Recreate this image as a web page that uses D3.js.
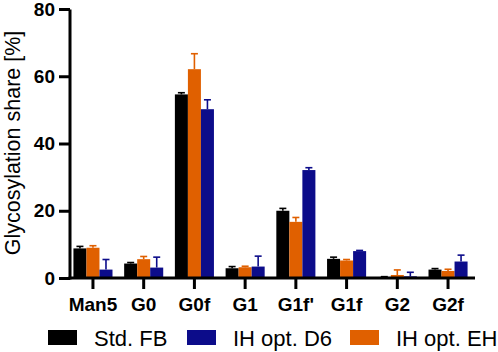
<!DOCTYPE html>
<html>
<head>
<meta charset="utf-8">
<script src="https://cdn.jsdelivr.net/npm/d3@7"></script>
<style>
  body { margin: 0; background: #fff; }
  text { font-family: Arial, "Liberation Sans", sans-serif; }
</style>
</head>
<body>
<div id="chartDiv"></div>
<script>
// Glycosylation data (mean and upper error)
const categories = ["Man5", "G0", "G0f", "G1", "G1f'", "G1f", "G2", "G2f"];
const seriesNames = ["Std. FB", "IH opt. EH", "IH opt. D6"];
const stdFB   = [8.8, 4.3, 54.6, 2.9, 20.0, 5.7, 0.3, 2.5];
const stdFBErr = [0.6, 0.3, 0.5, 0.5, 0.7, 0.5, 0.1, 0.3];
const ihEH    = [9.0, 5.6, 62.1, 3.2, 16.7, 5.2, 0.9, 2.1];
const ihEHErr = [0.6, 0.8, 4.6, 0.3, 1.3, 0.3, 1.5, 0.5];
const ihD6    = [2.5, 3.1, 50.2, 3.4, 32.1, 8.0, 0.5, 4.9];
const ihD6Err = [3.0, 3.1, 2.8, 3.1, 0.7, 0.2, 1.2, 1.9];
const yTicks = [0, 20, 40, 60, 80];

const colors = {"Std. FB": "#000000", "IH opt. EH": "#E06000", "IH opt. D6": "#0C0C8A"};
const legendOrder = ["Std. FB", "IH opt. D6", "IH opt. EH"];

const width = 498, height = 352;

let svg = d3.select("#chartDiv")
     .append("svg")
     .attr("width", width)
     .attr("height", height);

// Build rows for drawing
const values = [stdFB, ihEH, ihD6];
const errors = [stdFBErr, ihEHErr, ihD6Err];
let rows = [];
categories.forEach(function(c, i) {
     seriesNames.forEach(function(s, j) {
          rows.push({cat: c, series: s, value: values[j][i], err: errors[j][i]});
     });
});

// Scales
let scaleX = d3.scaleBand()
     .domain(categories)
     .range([67.6, 473.4])
     .paddingInner(0.23)
     .paddingOuter(0.115);
let scaleSub = d3.scaleBand()
     .domain(seriesNames)
     .range([0, scaleX.bandwidth()]);
let scaleY = d3.scaleLinear()
     .domain([0, 80])
     .range([278, 9]);

// Bars
svg.selectAll(".bar")
     .data(rows)
     .enter()
     .append("rect")
       .attr("class", "bar")
       .attr("x", function(d) { return scaleX(d.cat) + scaleSub(d.series); })
       .attr("y", function(d) { return scaleY(d.value); })
       .attr("width", scaleSub.bandwidth())
       .attr("height", function(d) { return scaleY(0) - scaleY(d.value); })
       .attr("fill", function(d) { return colors[d.series]; });

// Error bars (upper only)
let errG = svg.selectAll(".err")
     .data(rows)
     .enter()
     .append("g")
       .attr("class", "err")
       .attr("stroke", function(d) { return colors[d.series]; })
       .attr("stroke-width", 1.6);
errG.append("line")
     .attr("x1", function(d) { return scaleX(d.cat) + scaleSub(d.series) + scaleSub.bandwidth() / 2; })
     .attr("x2", function(d) { return scaleX(d.cat) + scaleSub(d.series) + scaleSub.bandwidth() / 2; })
     .attr("y1", function(d) { return scaleY(d.value); })
     .attr("y2", function(d) { return scaleY(d.value + d.err); });
errG.append("line")
     .attr("x1", function(d) { return scaleX(d.cat) + scaleSub(d.series) + scaleSub.bandwidth() / 2 - 3.5; })
     .attr("x2", function(d) { return scaleX(d.cat) + scaleSub(d.series) + scaleSub.bandwidth() / 2 + 3.5; })
     .attr("y1", function(d) { return scaleY(d.value + d.err); })
     .attr("y2", function(d) { return scaleY(d.value + d.err); });

// Y axis
let yAxis = svg.append("g")
     .attr("transform", "translate(70,0)")
     .call(d3.axisLeft(scaleY).tickValues(yTicks).tickSize(11).tickPadding(4));
yAxis.select(".domain").attr("stroke-width", 3).attr("d", "M0,9.5V279.5");
yAxis.selectAll(".tick line").attr("stroke-width", 3);
yAxis.selectAll("text")
     .style("font-size", "19px")
     .style("font-weight", "bold")
     .attr("fill", "#000");

// X axis
let xAxis = svg.append("g")
     .attr("transform", "translate(0,278)")
     .call(d3.axisBottom(scaleX).tickSize(11).tickPadding(9));
xAxis.select(".domain").attr("stroke-width", 3).attr("d", "M68.5,0H475");
xAxis.selectAll(".tick line").attr("stroke-width", 3);
xAxis.selectAll("text")
     .style("font-size", "19px")
     .style("font-weight", "bold")
     .attr("fill", "#000");

// Y label
svg.append("text")
     .attr("text-anchor", "middle")
     .attr("transform", "translate(20,143) rotate(-90)")
     .style("font-size", "21.5px")
     .text("Glycosylation share [%]");

// Legend
const legendX = [48, 187, 350];
let legend = svg.selectAll(".legend")
     .data(legendOrder)
     .enter()
     .append("g")
       .attr("class", "legend")
       .attr("transform", function(d, i) { return "translate(" + legendX[i] + ",330)"; });
legend.append("rect")
     .attr("width", 29)
     .attr("height", 15)
     .attr("fill", function(d) { return colors[d]; });
legend.append("text")
     .attr("x", 46)
     .attr("y", 15.5)
     .style("font-size", "22px")
     .text(function(d) { return d; });
</script>
</body>
</html>
